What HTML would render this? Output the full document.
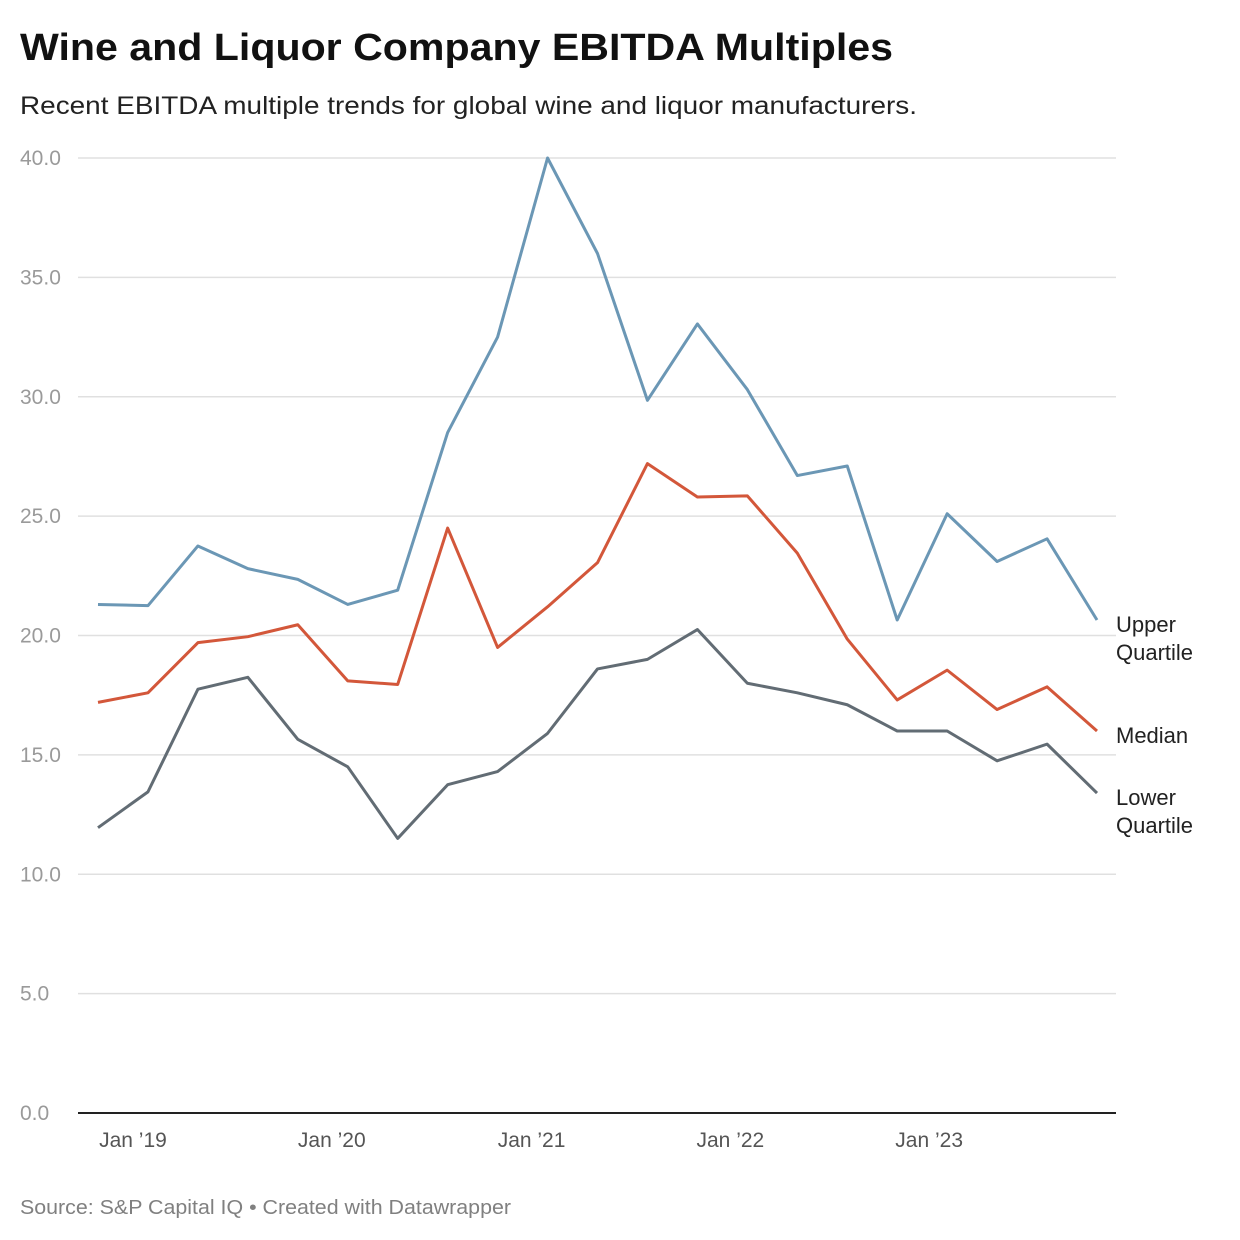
<!DOCTYPE html>
<html><head><meta charset="utf-8"><style>
body{margin:0;background:#fff;font-family:"Liberation Sans",Arial,sans-serif;}
#wrap{position:relative;width:1240px;height:1240px;overflow:hidden;}
</style></head><body>
<div id="wrap">
<svg id="chart" width="1240" height="1240" xmlns="http://www.w3.org/2000/svg">
<text x="20" y="60" font-size="38" font-weight="bold" fill="#111" textLength="873" lengthAdjust="spacingAndGlyphs">Wine and Liquor Company EBITDA Multiples</text>
<text x="20" y="114" font-size="25" fill="#222" textLength="897" lengthAdjust="spacingAndGlyphs">Recent EBITDA multiple trends for global wine and liquor manufacturers.</text>
<text x="20" y="1214" font-size="20" fill="#808080" textLength="491" lengthAdjust="spacingAndGlyphs">Source: S&amp;P Capital IQ • Created with Datawrapper</text>
<g id="grid"></g><g id="lines"></g><g id="labels"></g>
</svg>
</div>
<script>
const yTicks=[0,5,10,15,20,25,30,35,40];
const xTickLabels=["Jan ’19","Jan ’20","Jan ’21","Jan ’22","Jan ’23"];
const xTickIndex=[0.7,4.68,8.68,12.66,16.64];
const upper=[21.3,21.25,23.75,22.8,22.35,21.3,21.9,28.5,32.5,40,36,29.85,33.05,30.3,26.7,27.1,20.65,25.1,23.1,24.05,20.65];
const median=[17.2,17.6,19.7,19.95,20.45,18.1,17.95,24.5,19.5,21.2,23.05,27.2,25.8,25.85,23.45,19.85,17.3,18.55,16.9,17.85,16];
const lower=[11.95,13.45,17.75,18.25,15.65,14.5,11.5,13.75,14.3,15.9,18.6,19,20.25,18,17.6,17.1,16,16,14.75,15.45,13.4];
const NS="http://www.w3.org/2000/svg";
const x=i=>98+i*49.95;
const y=v=>1113-v*23.875;
function mk(t,a,p){const e=document.createElementNS(NS,t);for(const k in a)e.setAttribute(k,a[k]);p.appendChild(e);return e;}
const grid=document.getElementById('grid'),lines=document.getElementById('lines'),labels=document.getElementById('labels');
yTicks.forEach(v=>{
 if(v>0){const g=mk('line',{x1:78,x2:1116,y1:y(v),y2:y(v),stroke:'#e0e0e0','stroke-width':1.5},grid);
 
 }
 const t=mk('text',{x:20,y:y(v)+7,'font-size':21,fill:'#9a9a9a'},grid);t.textContent=v.toFixed(1);
 
 
});
const ax=mk('line',{x1:78,x2:1116,y1:1113,y2:1113,stroke:'#222','stroke-width':2},grid);


xTickLabels.forEach((l,k)=>{
 const t=mk('text',{x:x(xTickIndex[k]),y:1147,'font-size':21,fill:'#555','text-anchor':'middle'},grid);t.textContent=l;
 
 
});
const series=[[upper,'#6b97b5','upper-quartile-line',['Upper','Quartile']],[median,'#d3573a','median-line',['Median']],[lower,'#626c74','lower-quartile-line',['Lower','Quartile']]];
series.forEach(([d,c,n,lab])=>{
 const p=mk('polyline',{points:d.map((v,i)=>x(i)+','+y(v)).join(' '),fill:'none',stroke:c,'stroke-width':3,'stroke-linejoin':'round'},lines);
 
 
 const last=y(d[d.length-1]);
 const off=lab.length>1?0:12;
 lab.forEach((s,j)=>{
  const t=mk('text',{x:1116,y:last+off+j*28+(lab.length>1?12:0),'font-size':22,fill:'#222'},labels);t.textContent=s;
  
  
 });
});
</script>
</body></html>
